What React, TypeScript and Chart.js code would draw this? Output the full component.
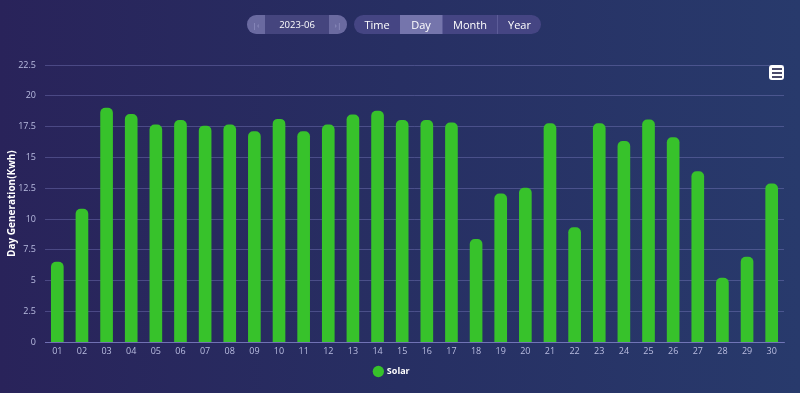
import React, { useEffect, useRef } from "react";
import { Chart, registerables } from "chart.js";

Chart.register(...registerables);

const days = ["01","02","03","04","05","06","07","08","09","10","11","12","13","14","15","16","17","18","19","20","21","22","23","24","25","26","27","28","29","30"];
const solar = [6.5,10.8,19.0,18.5,17.65,18.0,17.55,17.65,17.1,18.1,17.1,17.65,18.45,18.75,18.0,18.0,17.8,8.35,12.05,12.5,17.75,9.3,17.75,16.3,18.05,16.6,13.85,5.2,6.9,12.85];
const yTicks = [0,2.5,5,7.5,10,12.5,15,17.5,20,22.5];
const seriesName = "Solar";
const yTitle = "Day Generation(Kwh)";
const dateLabel = "2023-06";
const modes = ["Time","Day","Month","Year"];

export default function App() {
  const ref = useRef<HTMLCanvasElement | null>(null);
  useEffect(() => {
    document.body.style.margin = "0";
    const ctx = ref.current!;
    const chart = new Chart(ctx, {
      type: "bar",
      data: {
        labels: days,
        datasets: [{
          label: seriesName,
          data: solar,
          backgroundColor: "#37c22b",
          borderWidth: 0,
          barThickness: 12,
          borderRadius: { topLeft: 5, topRight: 5, bottomLeft: 0, bottomRight: 0 },
          borderSkipped: "bottom",
        }],
      },
      options: {
        animation: false,
        responsive: false,
        maintainAspectRatio: false,
        layout: { padding: { top: 65, left: 0, right: 16, bottom: 7 } },
        plugins: {
          legend: {
            position: "bottom",
            labels: {
              usePointStyle: true,
              pointStyle: "circle",
              boxWidth: 8,
              boxHeight: 8,
              color: "#ffffff",
              font: { family: "Open Sans", size: 9, weight: "bold" },
              padding: 6,
            },
          },
          tooltip: { enabled: false },
        },
        scales: {
          x: {
            grid: { display: false, drawTicks: false },
            border: { display: true, color: "rgba(140,140,210,0.6)", width: 1 },
            ticks: { color: "#b9bce0", font: { family: "Open Sans", size: 9 }, padding: 4, maxRotation: 0, autoSkip: false },
          },
          y: {
            min: 0,
            max: 22.5,
            afterBuildTicks: (axis: any) => { axis.ticks = yTicks.map((v) => ({ value: v })); },
            afterFit: (axis: any) => { axis.width = 45; },
            grid: { color: "rgba(140,140,210,0.35)", drawTicks: false },
            border: { display: false },
            ticks: { color: "#b9bce0", font: { family: "Open Sans", size: 9 }, padding: 9 },
            title: { display: true, text: yTitle, color: "#ffffff", font: { family: "Open Sans", size: 10, weight: "bold" }, padding: { top: 6, bottom: 0 } },
          },
        },
      },
    });
    return () => chart.destroy();
  }, []);

  const pill: React.CSSProperties = { position: "absolute", top: 15, height: 19, borderRadius: 10, overflow: "hidden", display: "flex", fontFamily: "Open Sans, sans-serif", fontSize: 11, color: "#fff" };

  return (
    <div style={{ position: "fixed", left: 0, top: 0, width: 800, height: 393, background: "linear-gradient(90deg, #29235a 0%, #272f63 50%, #283a6c 100%)", overflow: "hidden" }}>
      <canvas ref={ref} width={800} height={393} style={{ position: "absolute", left: 0, top: 0, width: 800, height: 393 }} />
      <div style={{ ...pill, left: 247, width: 100, background: "#45457e" }}>
        <div style={{ width: 18, background: "#6a6aa0", display: "flex", alignItems: "center", justifyContent: "center", fontSize: 8, color: "#9a9ac8" }}>|‹</div>
        <div style={{ flex: 1, display: "flex", alignItems: "center", justifyContent: "center", fontSize: 9.5 }}>{dateLabel}</div>
        <div style={{ width: 18, background: "#6a6aa0", display: "flex", alignItems: "center", justifyContent: "center", fontSize: 8, color: "#9a9ac8" }}>›|</div>
      </div>
      <div style={{ ...pill, left: 354, width: 187, background: "#454583" }}>
        {modes.map((m, i) => (
          <div key={m} style={{ width: [46, 42, 55, 44][i], display: "flex", alignItems: "center", justifyContent: "center", background: m === "Day" ? "#7575ac" : "transparent", borderLeft: i > 1 ? "1px solid #5c5c98" : "none", boxSizing: "border-box" }}>{m}</div>
        ))}
      </div>
      <div style={{ position: "absolute", left: 769, top: 65, width: 15, height: 15, background: "#ffffff", borderRadius: 3, display: "flex", flexDirection: "column", justifyContent: "center", alignItems: "center", gap: 2 }}>
        <div style={{ width: 10, height: 2, background: "#4a4a6a" }} />
        <div style={{ width: 10, height: 2, background: "#4a4a6a" }} />
        <div style={{ width: 10, height: 2, background: "#4a4a6a" }} />
      </div>
    </div>
  );
}
